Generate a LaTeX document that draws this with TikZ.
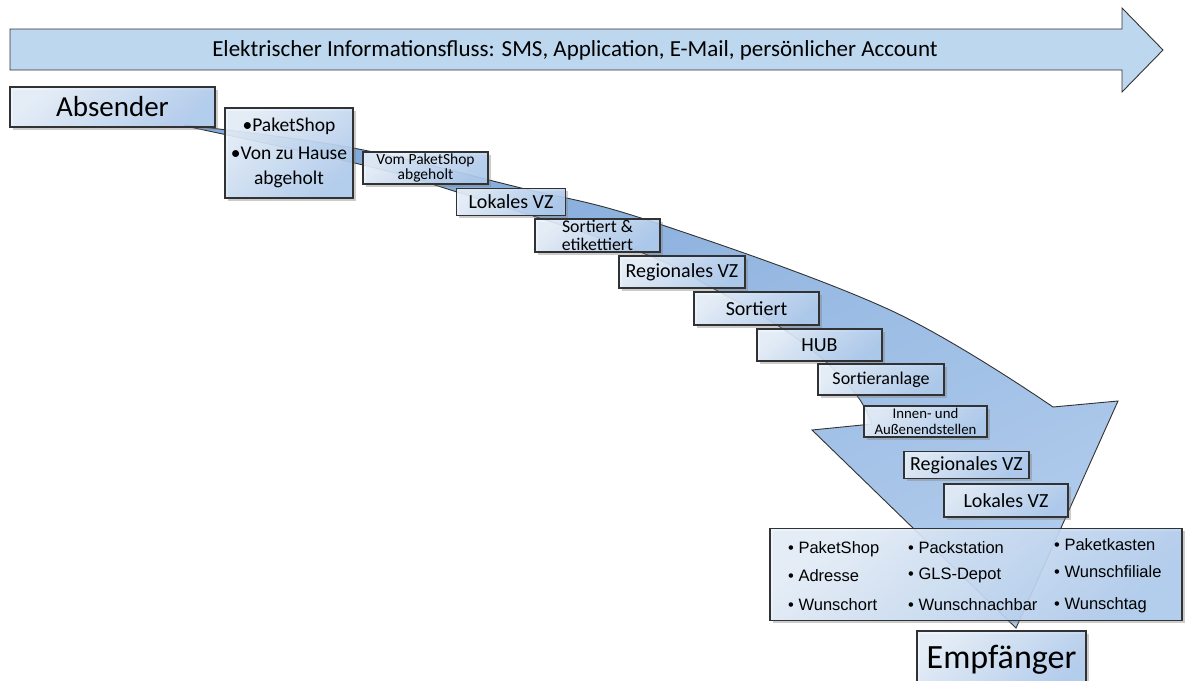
\documentclass[tikz,border=0pt]{standalone}
\usepackage{fontspec}
\setmainfont{Carlito}
\newfontfamily\arialf{Liberation Sans}
\usetikzlibrary{shadows}
\definecolor{boxblue}{RGB}{176,205,240}
\definecolor{boxlight}{RGB}{232,241,252}
\definecolor{arrowdark}{RGB}{130,170,218}
\definecolor{arrowlight}{RGB}{176,203,236}
\definecolor{topfill}{RGB}{189,215,238}
\definecolor{edgegray}{RGB}{50,50,50}
\newcommand{\fs}[2]{\fontsize{#1}{#2}\selectfont}
\tikzset{
  stepbox/.style={draw=edgegray, line width=1.2pt, top color=boxlight, bottom color=boxblue,
    shading angle=40, fill opacity=0.88, text opacity=1,
    drop shadow={shadow xshift=2.5pt, shadow yshift=-2.5pt, opacity=0.4},
    inner sep=0pt, align=center, anchor=center},
  bigarrow/.style={draw=edgegray, line width=0.9pt, top color=arrowdark, bottom color=arrowlight, shading angle=25},
  toparrow/.style={draw=edgegray, line width=0.9pt, fill=topfill},
  opt/.style={anchor=west, inner sep=0pt, font=\arialf\fs{16.5}{18}},
}
\begin{document}
\begin{tikzpicture}[x=1pt,y=-1pt]
\useasboundingbox (0,0) rectangle (1185,680);

% top information arrow
\draw[toparrow] (10,29) -- (1122,29) -- (1122,8) -- (1163,50) -- (1122,92) -- (1122,70) -- (10,70) -- cycle;
\node[inner sep=0pt, font=\fs{23}{26}] (info) at (575,50) {Elektrischer Informationsfluss: SMS, Application, E-Mail, persönlicher Account};

% big curved arrow
\draw[bigarrow] plot[smooth, tension=0.6] coordinates {(185,125) (353,148) (517,187) (647,220) (890,310) (1053,407)}
  -- (1118,401) -- (1016,628) -- (812,430) -- (872,424)
  -- plot[smooth, tension=0.6] coordinates {(872,424) (858,397) (825,361) (780,327) (716,290) (640,252) (457,192) (363,165) (185,126)} -- cycle;

% process boxes
\node[stepbox, minimum width=205pt, minimum height=40pt, font=\fs{29}{32}] (absender) at (112.5,107) {Absender};
\node[stepbox, minimum width=128pt, minimum height=90pt, font=\fs{19.5}{25}] (pick) at (289,153) {•PaketShop\\[3pt]•Von zu Hause\\abgeholt};
\node[stepbox, minimum width=125pt, minimum height=32pt, font=\fs{15.5}{14.5}] (vom) at (425.5,168) {Vom PaketShop\\abgeholt};
\node[stepbox, minimum width=109pt, minimum height=27pt, font=\fs{20}{22}] (lvz1) at (511,202) {Lokales VZ};
\node[stepbox, minimum width=125pt, minimum height=33pt, font=\fs{17.8}{18}] (sort1) at (597.5,235.5) {Sortiert \&\\etikettiert};
\node[stepbox, minimum width=126pt, minimum height=32pt, font=\fs{20}{22}] (rvz1) at (682,272) {Regionales VZ};
\node[stepbox, minimum width=125pt, minimum height=33pt, font=\fs{20}{22}] (sort2) at (756.5,308.5) {Sortiert};
\node[stepbox, minimum width=125pt, minimum height=32pt, font=\fs{20}{22}] (hub) at (819.5,345) {HUB};
\node[stepbox, minimum width=126pt, minimum height=31pt, font=\fs{18}{20}] (sanl) at (881,379.5) {Sortieranlage};
\node[stepbox, minimum width=123pt, minimum height=31pt, font=\fs{14.8}{16}] (innen) at (925.5,421.5) {Innen- und\\Außenendstellen};
\node[stepbox, minimum width=125pt, minimum height=27pt, font=\fs{20}{22}] (rvz2) at (966.5,465) {Regionales VZ};
\node[stepbox, minimum width=124pt, minimum height=33pt, font=\fs{20}{22}] (lvz2) at (1006,500.5) {Lokales VZ};

% delivery options box
\node[stepbox, minimum width=412pt, minimum height=92pt] (opts) at (976,574.5) {};
\node[opt] (o1) at (788,549) {• PaketShop};
\node[opt] (o2) at (788,576) {• Adresse};
\node[opt] (o3) at (788,605) {• Wunschort};
\node[opt] (o4) at (908,548) {• Packstation};
\node[opt] (o5) at (908,575) {• GLS-Depot};
\node[opt] (o6) at (908,605) {• Wunschnachbar};
\node[opt] (o7) at (1054,545) {• Paketkasten};
\node[opt] (o8) at (1054,572) {• Wunschfiliale};
\node[opt] (o9) at (1054,605) {• Wunschtag};

% receiver
\node[stepbox, minimum width=169pt, minimum height=58pt, font=\fs{34}{38}] (empf) at (1001.5,660) {Empfänger};
\end{tikzpicture}
\end{document}
